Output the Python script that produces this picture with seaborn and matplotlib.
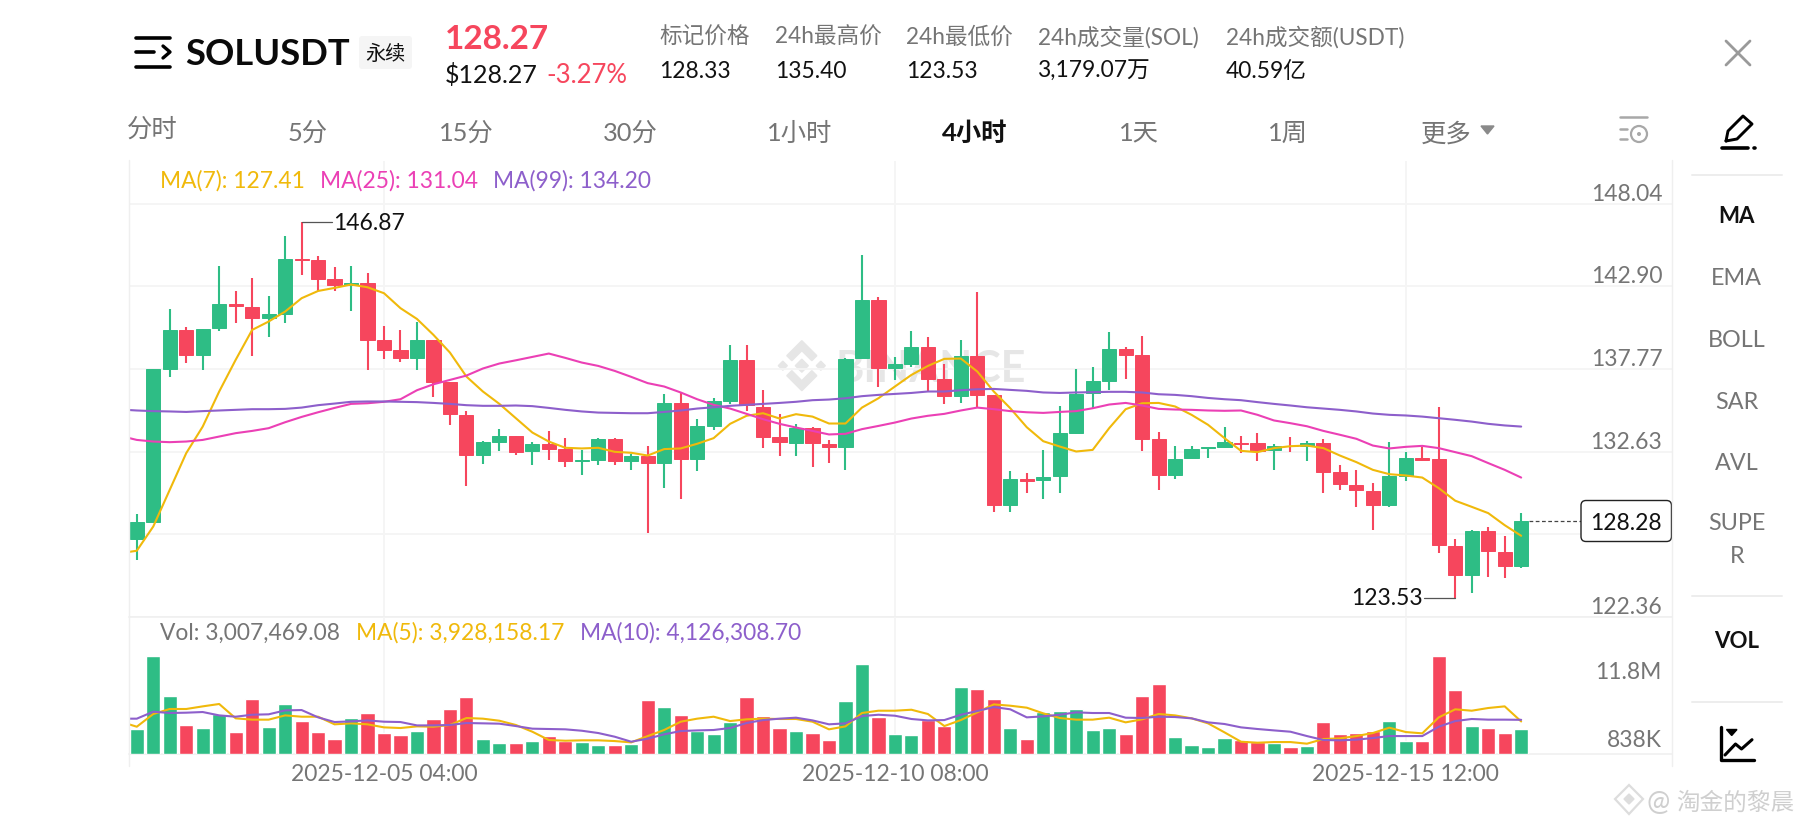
import seaborn as sns
import matplotlib.pyplot as plt
from matplotlib.patches import FancyBboxPatch, Polygon, Circle
import numpy as np

# 4h candles
opens = [127.18,128.24,137.77,140.19,138.66,140.29,141.80,141.62,140.93,141.20,144.58,144.56,143.36,142.96,143.09,
         139.57,138.93,138.47,139.59,136.94,134.91,132.40,133.21,133.62,132.65,133.11,132.78,132.01,132.13,133.40,
         132.01,132.32,131.93,135.63,132.17,134.22,135.76,138.30,135.41,133.54,133.17,134.08,133.11,132.88,138.43,
         142.05,137.81,138.04,139.11,137.12,136.09,138.57,136.15,129.30,130.89,130.83,131.08,133.81,136.25,137.02,
         139.03,138.64,133.40,131.18,132.20,132.82,132.88,133.15,133.17,132.71,133.00,133.00,133.15,131.35,130.56,
         130.19,129.32,131.08,132.24,132.17,126.75,124.95,127.68,126.38,125.49]
highs = [128.74,137.77,141.47,140.35,140.27,144.19,142.61,143.44,142.32,146.01,146.87,144.81,144.12,144.19,143.75,
         140.42,140.17,140.69,139.59,136.94,135.14,133.27,134.04,133.62,133.21,133.89,133.48,132.73,133.50,133.44,
         132.49,132.98,136.19,136.30,134.64,135.94,139.28,139.26,136.44,134.97,134.33,134.18,133.33,138.43,144.87,
         142.26,138.53,140.15,139.77,138.08,139.55,142.53,136.15,131.41,131.28,132.73,135.47,137.75,137.89,140.06,
         139.11,139.80,133.87,132.96,133.00,132.90,134.18,133.58,133.75,133.11,133.54,133.29,133.40,131.80,131.49,
         130.70,133.19,132.61,132.92,135.40,127.18,127.78,127.93,127.39,128.78]
lows = [125.90,128.24,137.29,138.16,137.70,140.13,140.64,138.59,139.77,140.64,143.59,142.63,142.61,141.37,137.70,
        138.41,138.18,137.70,136.03,134.29,130.50,131.86,132.69,132.44,131.76,132.11,131.66,131.20,131.82,131.80,
        131.45,127.54,130.37,129.67,131.39,133.98,135.57,135.16,132.84,132.36,132.38,131.64,131.91,131.51,138.43,
        136.65,137.08,137.91,136.30,135.59,135.63,135.34,128.90,128.90,130.04,129.67,130.02,133.73,135.36,136.46,
        137.14,132.69,130.23,130.89,132.20,132.20,132.84,132.53,132.05,131.49,132.61,132.01,130.02,130.23,129.19,
        127.72,129.19,130.81,132.01,126.33,123.53,123.81,124.84,124.76,125.36]
closes = [128.22,137.77,140.19,138.66,140.27,141.78,141.66,140.93,141.20,144.60,144.52,143.38,142.99,143.09,139.59,
          138.97,138.47,139.59,136.96,134.95,132.40,133.19,133.62,132.63,133.11,132.80,132.01,132.11,133.42,132.01,
          132.32,131.93,135.63,132.17,134.20,135.76,138.30,135.55,133.56,133.19,134.08,133.15,132.88,138.41,142.05,
          137.81,138.04,139.11,137.14,136.09,138.57,136.17,129.30,130.91,130.79,131.06,133.79,136.23,137.00,139.03,
          138.66,133.42,131.18,132.15,132.78,132.90,133.21,133.11,132.67,133.00,132.96,133.15,131.37,130.60,130.21,
          129.32,131.08,132.24,132.11,126.79,124.95,127.70,126.44,125.51,128.28]

# moving averages start one candle left of the visible window (index -1)
ma7 = [126.31,126.46,127.97,130.25,132.53,134.18,136.36,138.33,140.19,140.71,141.33,142.16,142.61,142.80,143.01,142.84,
       142.47,141.54,140.87,139.88,138.78,137.29,136.36,135.59,134.70,133.81,133.25,132.86,132.82,132.86,132.61,132.55,
       132.38,132.78,132.82,133.11,133.46,134.35,134.85,135.01,134.68,134.95,134.80,134.37,134.37,135.36,135.94,136.67,
       137.39,137.95,138.39,138.41,137.60,136.36,135.32,134.14,133.27,132.94,132.63,132.73,134.08,135.26,135.63,135.65,
       135.43,134.91,134.29,133.46,132.67,132.59,132.84,132.96,133.00,132.84,132.38,131.97,131.49,131.22,131.14,131.01,
       130.35,129.57,129.19,128.80,128.05,127.39]
ma25 = [133.60,133.35,133.25,133.21,133.25,133.35,133.56,133.77,133.91,134.08,134.45,134.78,135.07,135.34,135.59,135.63,
        135.72,135.88,136.44,136.81,137.08,137.35,137.79,138.10,138.30,138.51,138.72,138.45,138.16,137.95,137.64,137.27,
        136.88,136.67,136.30,135.88,135.53,135.30,134.97,134.64,134.35,134.12,133.91,133.69,133.73,134.02,134.22,134.43,
        134.68,134.85,134.97,135.18,135.36,135.26,135.14,135.07,135.03,135.09,135.14,135.32,135.55,135.65,135.49,135.28,
        135.24,135.22,135.18,135.16,135.18,134.91,134.56,134.39,134.20,133.91,133.67,133.42,133.00,132.82,132.92,132.98,
        132.84,132.59,132.34,131.91,131.49,131.01]
ma99 = [135.24,135.18,135.14,135.12,135.09,135.14,135.18,135.22,135.26,135.26,135.28,135.36,135.51,135.61,135.72,135.74,
        135.74,135.72,135.70,135.65,135.59,135.51,135.47,135.47,135.49,135.45,135.34,135.22,135.12,135.05,135.03,135.01,
        135.01,135.09,135.18,135.30,135.38,135.47,135.53,135.59,135.65,135.72,135.82,135.86,135.94,136.07,136.15,136.21,
        136.27,136.36,136.36,136.44,136.50,136.52,136.46,136.40,136.30,136.27,136.30,136.32,136.34,136.34,136.30,136.19,
        136.15,136.07,135.96,135.88,135.82,135.70,135.59,135.49,135.38,135.30,135.22,135.12,134.99,134.91,134.87,134.80,
        134.70,134.60,134.49,134.35,134.25,134.18]

# volume in millions
volume = [3.01,11.87,6.99,3.45,3.13,4.84,2.64,6.62,3.29,6.01,3.94,2.60,1.75,4.35,4.92,2.48,2.24,2.72,4.23,5.49,6.91,
          1.79,1.34,1.26,1.50,2.15,1.54,1.42,1.06,1.02,1.14,6.54,5.73,4.67,2.80,2.40,3.82,6.91,4.55,3.09,2.76,2.52,
          1.67,6.46,10.89,4.47,2.44,2.32,4.10,3.37,8.13,7.88,6.62,3.09,1.83,5.08,5.20,5.41,2.93,3.09,2.44,7.03,8.49,
          2.07,1.06,0.85,1.87,1.63,1.38,1.34,0.81,0.93,3.82,2.40,2.56,2.76,3.94,1.54,1.54,11.87,7.72,3.41,3.09,2.48,3.01]
vol_ma5 = [3.90,3.29,4.84,5.45,5.45,5.77,6.06,4.31,4.15,4.15,4.67,4.51,4.51,3.58,3.70,3.58,3.21,3.13,3.33,3.29,3.50,4.35,
           4.27,4.02,3.50,2.68,1.67,1.58,1.63,1.63,1.54,1.38,2.15,2.89,3.90,4.27,4.51,3.98,4.19,4.27,4.23,4.23,3.90,2.97,
           3.33,4.96,5.24,5.24,5.36,4.84,3.37,4.10,5.04,6.01,5.85,5.61,4.92,4.35,4.15,4.15,4.39,3.82,4.19,4.84,4.67,4.31,
           3.70,2.60,1.46,1.34,1.42,1.42,1.22,1.79,1.87,2.15,2.52,3.17,2.64,2.48,4.43,5.41,5.24,5.57,5.77,3.93]
vol_ma10 = [4.27,4.27,5.12,4.96,5.00,5.08,4.67,4.51,4.75,4.80,5.28,5.32,4.43,3.86,3.94,4.06,3.90,3.86,3.45,3.45,3.50,3.74,
            3.70,3.66,3.37,3.05,3.01,2.97,2.80,2.52,2.07,1.46,1.83,2.36,2.76,2.84,2.89,3.13,3.74,4.10,4.27,4.39,4.06,3.58,
            3.70,4.59,4.75,4.63,4.23,4.06,4.10,4.75,5.20,5.69,5.41,4.43,4.55,4.75,5.04,4.96,4.96,4.39,4.35,4.51,4.47,4.31,
            3.82,3.62,3.21,3.01,2.84,2.68,2.15,1.67,1.63,1.71,1.91,2.15,2.15,2.15,3.29,3.98,4.23,4.15,4.15,4.13]

price_ticks = [148.04, 142.90, 137.77, 132.63, 127.50, 122.36]
price_tick_labels = ['148.04', '142.90', '137.77', '132.63', '127.50', '122.36']
date_ticks = [15, 46, 77]
date_labels = ['2025-12-05 04:00', '2025-12-10 08:00', '2025-12-15 12:00']
last_price = 128.28

GREEN = '#2EBD85'
RED = '#F6465D'
YELLOW = '#F0B90B'
PINK = '#EB40B5'
PURPLE = '#8D5FCB'
GRAY = '#757575'
GRID = '#F5F5F5'
W, H = 1801, 828

sns.set_theme(style='white')
plt.rcParams['font.family'] = ['Lato', 'Noto Sans CJK SC', 'DejaVu Sans']
plt.rcParams['axes.unicode_minus'] = False

fig = plt.figure(figsize=(W / 100, H / 100), dpi=100, facecolor='white')


def box(left, top, right, bottom):
    return [left / W, 1 - bottom / H, (right - left) / W, (bottom - top) / H]


# full-size layers in pixel coordinates for the app chrome
bg = fig.add_axes([0, 0, 1, 1], zorder=0)
ui = fig.add_axes([0, 0, 1, 1], zorder=5)
for layer in (bg, ui):
    layer.set_xlim(0, W)
    layer.set_ylim(H, 0)
    layer.axis('off')
    layer.patch.set_alpha(0)

ax = fig.add_axes(box(128.6, 162, 1672.3, 617.7), zorder=2)
ax_vol = fig.add_axes(box(128.6, 617.7, 1672.3, 754.7), zorder=2)
ax.patch.set_alpha(0)
ax_vol.patch.set_alpha(0)

# 1. price panel
idx = np.arange(len(closes))
ma_idx = np.arange(-1, len(closes))
opens_a, closes_a = np.array(opens), np.array(closes)
candle_up = closes_a >= opens_a
colors = [GREEN if u else RED for u in candle_up]

ax.vlines(idx, lows, highs, colors=colors, linewidth=1.5, zorder=3)
ax.bar(idx, np.abs(closes_a - opens_a), bottom=np.minimum(opens_a, closes_a), width=0.86,
       color=colors, edgecolor=colors, linewidth=0.7, zorder=4)
sns.lineplot(x=ma_idx, y=ma7, color=YELLOW, linewidth=1.5, errorbar=None, ax=ax, zorder=5)
sns.lineplot(x=ma_idx, y=ma25, color=PINK, linewidth=1.5, errorbar=None, ax=ax, zorder=5)
sns.lineplot(x=ma_idx, y=ma99, color=PURPLE, linewidth=1.5, errorbar=None, ax=ax, zorder=5)

ax.hlines(last_price, 84.45, 87.63, colors='#444444', linestyles=(0, (3, 2)), linewidth=0.9)

# high / low callouts
hi_i, lo_i = int(np.argmax(highs)), int(np.argmin(lows))
ax.plot([hi_i, hi_i + 1.86], [highs[hi_i], highs[hi_i]], color='#555555', lw=0.9, zorder=6)
ax.annotate(f'{highs[hi_i]:.2f}', (hi_i + 1.9, highs[hi_i]), fontsize=16.5, color='#111111', va='center', ha='left')
ax.plot([lo_i, lo_i - 1.92], [lows[lo_i], lows[lo_i]], color='#555555', lw=0.9, zorder=6)
ax.annotate(f'{lows[lo_i]:.2f}', (lo_i - 1.95, lows[lo_i]), fontsize=16.5, color='#111111', va='center', ha='right')

ax.set_xlim(-0.4976, 93.17)
ax.set_ylim(122.38, 150.69)
ax.yaxis.tick_right()
ax.set_yticks(price_ticks)
ax.set_yticklabels(price_tick_labels, fontsize=16.5, color=GRAY)
ax.tick_params(axis='y', length=0, pad=-7.2)
for lab in ax.get_yticklabels():
    lab.set_ha('right')
    lab.set_va('bottom')
ax.set_xticks(date_ticks)
ax.set_xticklabels([])
ax.tick_params(axis='x', length=0)
ax.set_xlabel('')
ax.grid(True, color=GRID, linewidth=1.3)
ax.set_axisbelow(True)

# 2. volume panel
direction = ['up' if u else 'down' for u in candle_up]
sns.barplot(x=idx, y=volume, hue=direction, palette={'up': GREEN, 'down': RED}, native_scale=True,
            dodge=False, width=0.86, saturation=1, errorbar=None, legend=False, ax=ax_vol, zorder=3)
sns.lineplot(x=ma_idx, y=vol_ma5, color=YELLOW, linewidth=1.5, errorbar=None, ax=ax_vol, zorder=5)
sns.lineplot(x=ma_idx, y=vol_ma10, color=PURPLE, linewidth=1.5, errorbar=None, ax=ax_vol, zorder=6)
ax_vol.set_xlim(-0.4976, 93.17)
ax_vol.set_ylim(0, 16.7)
ax_vol.set_yticks([])
ax_vol.set_ylabel('')
ax_vol.set_xticks(date_ticks)
ax_vol.set_xticklabels(date_labels, fontsize=16.5, color=GRAY)
ax_vol.tick_params(axis='x', length=0, pad=6.5)
ax_vol.grid(True, axis='x', color=GRID, linewidth=1.3)
ax_vol.set_axisbelow(True)

for a in (ax, ax_vol):
    for name, spine in a.spines.items():
        spine.set_visible(name == 'bottom')
        spine.set_color('#F0F0F0')
        spine.set_linewidth(1.2)


def put(x, y, s, size=16.4, color='#111111', ha='left', weight='normal', layer=ui, **kw):
    # va='center' counts the descender, so nudge down to centre the digits
    layer.text(x, y + size * 0.13, s, fontsize=size, color=color, ha=ha, va='center', fontweight=weight, **kw)


def seg(xs, ys, color='black', lw=2.0, layer=ui):
    layer.plot(xs, ys, color=color, lw=lw, solid_capstyle='round')


# frame lines
for x in (128.6, 1672.3):
    ui.plot([x, x], [161, 767], color='#EFEFEF', lw=1.0)

# watermark behind the candles
wm = '#E6E6E6'
cx, cy = 801.8, 366.7
for dx, dy, r in [(0, 0, 6.5), (-19, 0, 4.5), (19, 0, 4.5)]:
    bg.add_patch(Polygon([(cx + dx - r, cy + dy), (cx + dx, cy - r), (cx + dx + r, cy), (cx + dx, cy + r)], color=wm))
bg.add_patch(Polygon([(cx, cy - 25), (cx + 15, cy - 10), (cx + 10, cy - 5), (cx, cy - 15), (cx - 10, cy - 5), (cx - 15, cy - 10)], color=wm))
bg.add_patch(Polygon([(cx, cy + 25), (cx + 15, cy + 10), (cx + 10, cy + 5), (cx, cy + 15), (cx - 10, cy + 5), (cx - 15, cy + 10)], color=wm))
put(835, 365, 'BINANCE', size=31, color=wm, weight='bold', layer=bg)

# header
seg([136, 170], [38.5, 38.5], lw=2.6)
seg([136, 154], [53, 53], lw=2.6)
seg([136, 170], [67.5, 67.5], lw=2.6)
seg([163, 170, 163], [47, 53, 59], lw=2.4)
put(185, 51, 'SOLUSDT', size=26.2, weight='bold', color='#0A0A0A')
ui.add_patch(FancyBboxPatch((362, 40), 47, 27, boxstyle='round,pad=3', fc='#F5F5F5', ec='none'))
put(385.5, 52, '永续', size=14.5, ha='center')
put(445, 36, '128.27', size=24, color=RED, weight='bold')
put(445, 73, '$128.27', size=18)
put(546, 73, '-3.27%', size=18.5, color=RED)

stats = [(659, '标记价格', '128.33'), (775, '24h最高价', '135.40'), (906, '24h最低价', '123.53'),
         (1038, '24h成交量(SOL)', '3,179.07万'), (1226, '24h成交额(USDT)', '40.59亿')]
for x, name, val in stats:
    put(x, 35, name, size=16.3, color=GRAY)
    put(x, 69, val, size=16.4)

seg([1726, 1750], [42, 66], color='#9A9A9A', lw=2.0)
seg([1726, 1750], [66, 42], color='#9A9A9A', lw=2.0)

tabs = [(152, 127, '分时'), (308, 131, '5分'), (466, 131, '15分'), (630, 131, '30分'), (800, 131, '1小时'),
        (1139, 131, '1天'), (1288, 131, '1周'), (1446, 131, '更多')]
for x, y, s in tabs:
    put(x, y, s, size=18.3, color=GRAY, ha='center')
put(975, 131, '4小时', size=18.3, ha='center', weight='bold')
ui.add_patch(Polygon([(1481, 127), (1494, 127), (1487.5, 135)], color='#8A8A8A'))

# small tool icons
seg([1620, 1647], [118, 118], color='#A8A8A8', lw=1.8)
seg([1620, 1627], [130, 130], color='#A8A8A8', lw=1.8)
seg([1620, 1627], [140, 140], color='#A8A8A8', lw=1.8)
ui.add_patch(Circle((1639, 135), 8, fc='none', ec='#A8A8A8', lw=1.6))
ui.add_patch(Circle((1639, 135), 2, fc='#A8A8A8', ec='none'))
seg([1726, 1728, 1743, 1752, 1737, 1726], [142, 132, 117, 125, 140, 142], lw=2.1)
seg([1722, 1748], [149, 149], lw=2.6)
seg([1754, 1755], [149, 149], lw=2.6)

# right side panel
for y in (175.7, 596.7, 703):
    ui.plot([1692, 1782], [y, y], color='#EDEDED', lw=1.4)
put(1736.8, 214, 'MA', size=16, ha='center', weight='bold')
for y, s in [(276, 'EMA'), (338, 'BOLL'), (400, 'SAR'), (461, 'AVL'), (521, 'SUPE'), (554, 'R')]:
    put(1736.8, y, s, size=16.8, ha='center', color=GRAY)
put(1736.8, 639.7, 'VOL', size=16, ha='center', weight='bold')
seg([1721, 1721, 1754], [728, 761, 761], lw=2.4)
ui.add_patch(Polygon([(1726.5, 730.5), (1737, 730.5), (1731.7, 736.5)], color='black'))
seg([1725, 1735.5, 1741.5, 1752], [756, 745, 750, 740.7], lw=2.2)

# indicator read-outs
put(160, 178.5, 'MA(7): 127.41', color=YELLOW)
put(320, 178.5, 'MA(25): 131.04', color=PINK)
put(493, 178.5, 'MA(99): 134.20', color=PURPLE)
put(160, 631, 'Vol: 3,007,469.08', color=GRAY)
put(356, 631, 'MA(5): 3,928,158.17', color=YELLOW)
put(580, 631, 'MA(10): 4,126,308.70', color=PURPLE)
put(1661.6, 670, '11.8M', size=16.5, color=GRAY, ha='right')
put(1661.6, 738, '838K', size=16.5, color=GRAY, ha='right')

# last price tag
ui.add_patch(FancyBboxPatch((1586, 506.5), 80.5, 31, boxstyle='round,pad=5', fc='white', ec='#222222', lw=1.0))
put(1661.6, 521, '128.28', size=16.5, ha='right')

# bottom right account mark
mk = '#CFCFCF'
ui.add_patch(Polygon([(1629, 786), (1643, 800), (1629, 815), (1615, 800)], fc='none', ec='#DDDDDD', lw=1.6))
ui.add_patch(Polygon([(1629, 795), (1634, 800), (1629, 805), (1624, 800)], color='#DDDDDD'))
put(1646, 800, '@', size=20, color=mk)
put(1676, 800, '淘金的黎晨', size=17, color=mk)

fig.savefig('out.png', dpi=100, facecolor='white')
